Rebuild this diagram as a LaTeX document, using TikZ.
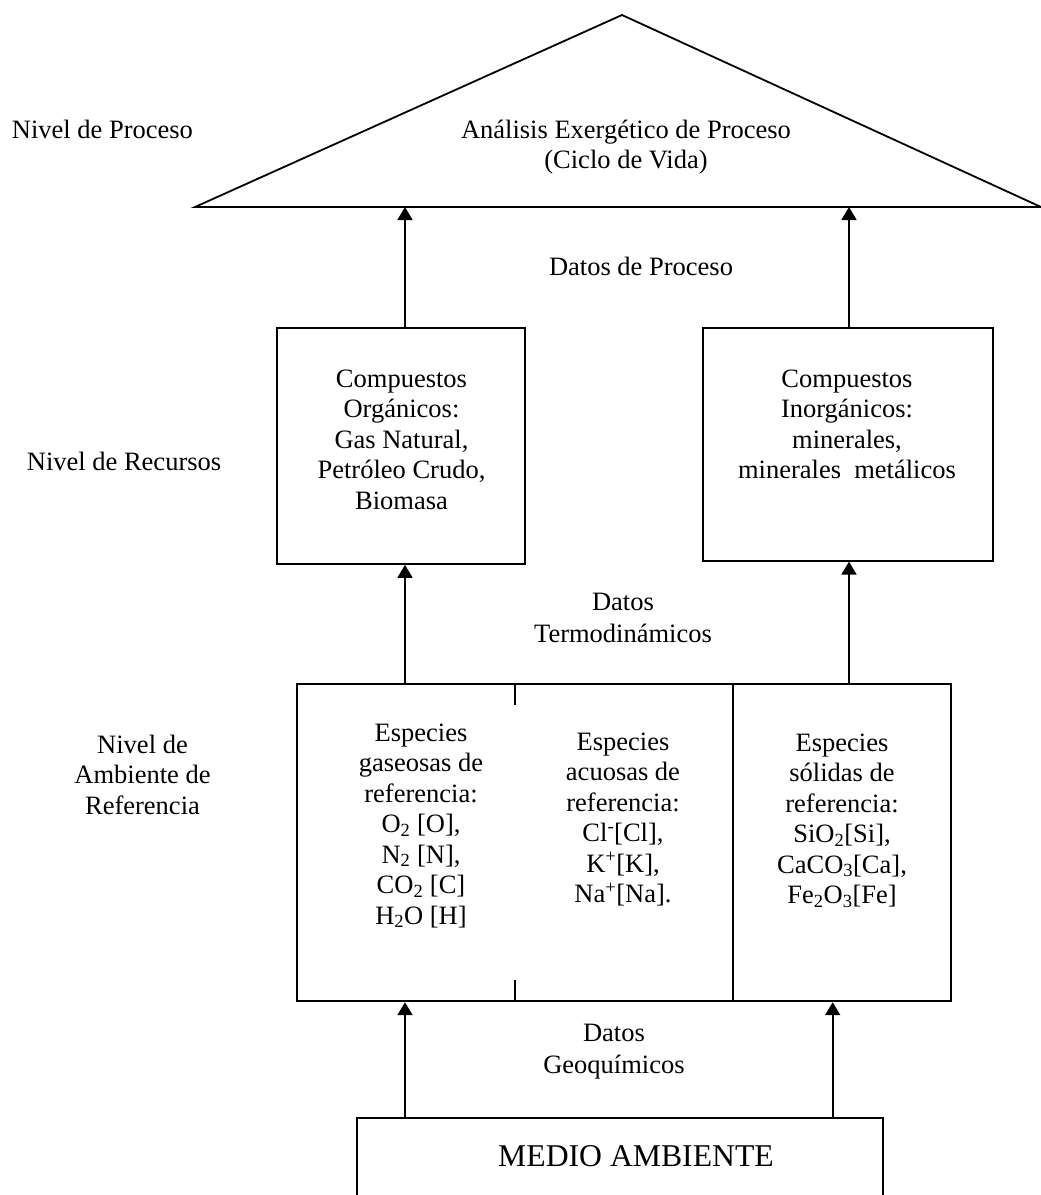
\documentclass[tikz,border=0pt]{standalone}
\usepackage{fontspec}
\setmainfont{Liberation Serif}
\usetikzlibrary{arrows.meta}
\begin{document}
\begin{tikzpicture}[x=1pt,y=-1pt,
  line width=1.8pt,
  % multi-line texts are placed by the baseline of their last line
  txt/.style={inner sep=0pt, align=center, anchor=base, font=\fontsize{26.5}{30.5}\selectfont},
  txtw/.style={txt, font=\fontsize{26.5}{31.5}\selectfont},
  lbl/.style={txt, anchor=base west},
  box/.style={draw, rectangle, inner sep=0pt},
  arr/.style={-{Triangle[width=15pt,length=13pt]}},
]
\useasboundingbox (0,0) rectangle (1041,1195);

% columns of the arrows
\coordinate (aL) at (405,0);
\coordinate (aR) at (849,0);
\coordinate (aR2) at (832.7,0);

% process level: triangle
\coordinate (triL) at (195,207);
\coordinate (triT) at (622,15);
\coordinate (triR) at (1041,207);
\draw (triL) -- (triT) -- (triR) -- cycle;
\node[txt] (proc) at (626,168.5) {Análisis Exergético de Proceso\\(Ciclo de Vida)};
\node[lbl] (lblProc) at (11,138) {Nivel de Proceso};
\node[txt] (datosProc) at (641,275) {Datos de Proceso};

% resource level
\node[box, minimum width=248pt, minimum height=236pt] (org) at (401,446) {};
\node[txt] (orgtxt) at (401.5,509) {Compuestos\\Orgánicos:\\Gas Natural,\\Petróleo Crudo,\\Biomasa};
\node[box, minimum width=290pt, minimum height=232.7pt] (inorg) at (847.7,444.35) {};
\node[txt] (inorgtxt) at (847,478.5) {Compuestos\\Inorgánicos:\\minerales,\\minerales\ \ metálicos};
\node[lbl] (lblRec) at (26,470) {Nivel de Recursos};
\node[txtw] (datosTerm) at (623,642.2) {Datos\\Termodinámicos};

% reference environment level
\node[box, minimum width=654pt, minimum height=317.3pt] (amb) at (623.7,842.65) {};
\draw (amb.north -| 732.7,0) -- (amb.south -| 732.7,0);
\draw (amb.north -| 515,0) -- ++(0,22);
\draw (amb.south -| 515,0) -- ++(0,-22);
\node[txt] (gas) at (421,924) {Especies\\gaseosas de\\referencia:\\O\textsubscript{2} [O],\\N\textsubscript{2} [N],\\CO\textsubscript{2} [C]\\H\textsubscript{2}O [H]};
\node[txt] (acu) at (623,902.5) {Especies\\acuosas de\\referencia:\\Cl\textsuperscript{-}[Cl],\\K\textsuperscript{+}[K],\\Na\textsuperscript{+}[Na].};
\node[txt] (sol) at (842,903.5) {Especies\\sólidas de\\referencia:\\SiO\textsubscript{2}[Si],\\CaCO\textsubscript{3}[Ca],\\Fe\textsubscript{2}O\textsubscript{3}[Fe]};
\node[txt] (lblAmb) at (142.5,814) {Nivel de\\Ambiente de\\Referencia};
\node[txtw] (datosGeo) at (614,1073.2) {Datos\\Geoquímicos};

% environment
\node[box, minimum width=525.4pt, minimum height=97.3pt] (medio) at (620,1166.35) {};
\node[txt, font=\fontsize{31.7}{36}\selectfont] (mediotxt) at (636,1166.7) {MEDIO AMBIENTE};

% data flows
\draw[arr] (org.north -| aL) -- (triL -| aL);
\draw[arr] (inorg.north -| aR) -- (triL -| aR);
\draw[arr] (amb.north -| aL) -- (org.south -| aL);
\draw[arr] (amb.north -| aR) -- (inorg.south -| aR);
\draw[arr] (medio.north -| aL) -- (amb.south -| aL);
\draw[arr] (medio.north -| aR2) -- (amb.south -| aR2);
\end{tikzpicture}
\end{document}
